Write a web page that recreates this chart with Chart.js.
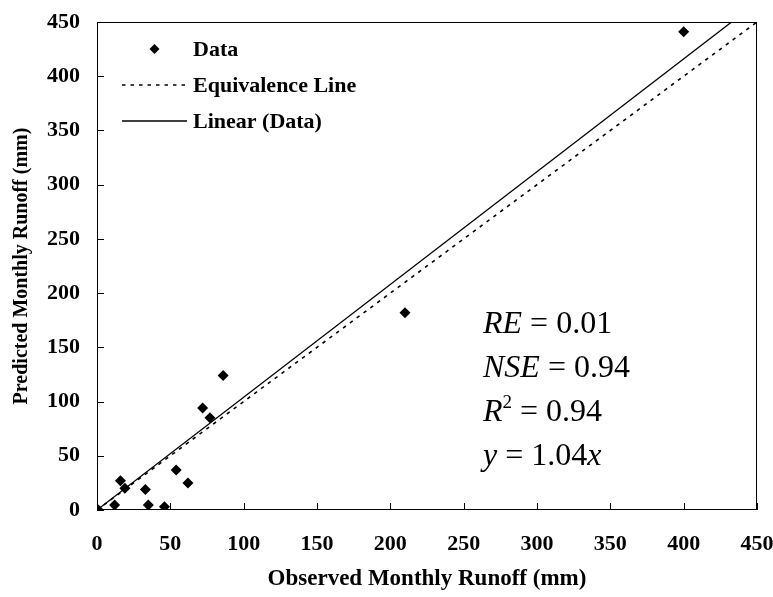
<!DOCTYPE html>
<html>
<head>
<meta charset="utf-8">
<script src="https://cdn.jsdelivr.net/npm/chart.js@4.4.1/dist/chart.umd.min.js"></script>
<style>
html, body { margin: 0; padding: 0; background: #fff; }
#wrap { width: 773px; height: 597px; }
</style>
</head>
<body>
<div id="wrap"><canvas id="chart" width="773" height="597"></canvas></div>
<script>
// observed vs predicted monthly runoff (mm)
const observed = [1, 12, 16, 19, 33, 35, 46, 54, 62, 72, 77, 86, 210, 400];
const predicted = [0, 4.5, 27, 20, 19, 4.5, 3, 37, 25, 94, 85, 124, 182, 441];
const equivX = [0, 450];
const equivY = [0, 450];
const fitX = [0, 432.7];
const fitY = [0, 450];
const tickValues = [0, 50, 100, 150, 200, 250, 300, 350, 400, 450];

const seriesLabels = ["Data", "Equivalence Line", "Linear (Data)"];
const statLines = [
	[["RE", true], [" = 0.01", false]],
	[["NSE", true], [" = 0.94", false]],
	[["R", true], ["2", false, true], [" = 0.94", false]],
	[["y", true], [" = 1.04", false], ["x", true]]
];

const SERIF = "'Liberation Serif', 'Times New Roman', serif";

const toPoints = (xs, ys) => xs.map((x, i) => ({ x: x, y: ys[i] }));

// plot frame + inward tick marks
const framePlugin = {
	id: "frame",
	afterDraw(chart) {
		const { ctx, chartArea: a, scales } = chart;
		ctx.save();
		ctx.strokeStyle = "#000";
		ctx.lineWidth = 1;
		ctx.strokeRect(a.left + 0.5, a.top + 0.5, a.right - a.left - 1, a.bottom - a.top - 1);
		ctx.beginPath();
		tickValues.forEach(v => {
			const px = Math.round(scales.x.getPixelForValue(v)) + 0.5;
			ctx.moveTo(px, a.bottom);
			ctx.lineTo(px, a.bottom - 7);
			const py = Math.round(scales.y.getPixelForValue(v)) + 0.5;
			ctx.moveTo(a.left, py);
			ctx.lineTo(a.left + 7, py);
		});
		ctx.stroke();
		ctx.restore();
	}
};

// legend drawn inside the plot, top-left
const legendPlugin = {
	id: "insideLegend",
	afterDraw(chart) {
		const { ctx, chartArea: a } = chart;
		const rows = [49, 85, 121];
		const x0 = a.left + 25, x1 = a.left + 90, tx = a.left + 96;
		ctx.save();
		ctx.fillStyle = "#000";
		ctx.strokeStyle = "#000";
		ctx.font = "bold 22px " + SERIF;
		ctx.textBaseline = "middle";
		chart.data.datasets.forEach((ds, i) => {
			const y = rows[i];
			if (i === 0) {
				const cx = (x0 + x1) / 2, r = 5;
				ctx.beginPath();
				ctx.moveTo(cx, y - r);
				ctx.lineTo(cx + r, y);
				ctx.lineTo(cx, y + r);
				ctx.lineTo(cx - r, y);
				ctx.closePath();
				ctx.fill();
			} else {
				ctx.beginPath();
				ctx.lineWidth = ds.borderWidth;
				ctx.setLineDash(ds.borderDash || []);
				ctx.moveTo(x0, y);
				ctx.lineTo(x1, y);
				ctx.stroke();
				ctx.setLineDash([]);
			}
			ctx.fillText(ds.label, tx, y + 1);
		});
		ctx.restore();
	}
};

// goodness-of-fit text
const statsPlugin = {
	id: "stats",
	afterDraw(chart) {
		const { ctx } = chart;
		ctx.save();
		ctx.fillStyle = "#000";
		ctx.textBaseline = "alphabetic";
		statLines.forEach((line, i) => {
			let x = 483;
			const y = 333 + i * 44;
			line.forEach(([txt, italic, sup]) => {
				const size = sup ? 19 : 32;
				ctx.font = (italic ? "italic " : "") + size + "px " + SERIF;
				ctx.fillText(txt, x, sup ? y - 13 : y);
				x += ctx.measureText(txt).width;
			});
		});
		ctx.restore();
	}
};

const tickFont = { family: SERIF, size: 22, weight: "bold" };

new Chart(document.getElementById("chart"), {
	type: "scatter",
	data: {
		datasets: [
			{
				label: seriesLabels[0],
				data: toPoints(observed, predicted),
				pointStyle: "rectRot",
				pointRadius: 5.5,
				pointHoverRadius: 5.5,
				backgroundColor: "#000",
				borderColor: "#000",
				borderWidth: 0,
				showLine: false
			},
			{
				label: seriesLabels[1],
				data: toPoints(equivX, equivY),
				showLine: true,
				borderColor: "#000",
				borderWidth: 1.6,
				borderDash: [3.5, 5],
				pointRadius: 0
			},
			{
				label: seriesLabels[2],
				data: toPoints(fitX, fitY),
				showLine: true,
				borderColor: "#000",
				borderWidth: 1.3,
				pointRadius: 0
			}
		]
	},
	options: {
		responsive: false,
		animation: false,
		layout: { padding: { left: 0, right: 16, top: 22, bottom: 0 } },
		plugins: {
			legend: { display: false },
			tooltip: { enabled: false }
		},
		scales: {
			x: {
				type: "linear",
				min: 0,
				max: 450,
				afterFit: s => { s.height = 87; s.paddingLeft = 0; s.paddingRight = 0; },
				afterBuildTicks: s => { s.ticks = tickValues.map(v => ({ value: v })); },
				grid: { display: false, drawTicks: false },
				border: { display: false },
				ticks: {
					color: "#000",
					padding: 21,
					maxRotation: 0,
					font: tickFont
				},
				title: {
					display: true,
					text: "Observed Monthly Runoff (mm)",
					color: "#000",
					padding: { bottom: 4 },
					font: { family: SERIF, size: 23, weight: "bold" }
				}
			},
			y: {
				type: "linear",
				min: 0,
				max: 450,
				afterFit: s => { s.width = 97; s.paddingTop = 0; s.paddingBottom = 0; },
				afterBuildTicks: s => { s.ticks = tickValues.map(v => ({ value: v })); },
				grid: { display: false, drawTicks: false },
				border: { display: false },
				ticks: {
					color: "#000",
					padding: 17,
					font: tickFont
				},
				title: {
					display: true,
					text: "Predicted Monthly Runoff (mm)",
					color: "#000",
					padding: { top: 10 },
					font: { family: SERIF, size: 20, weight: "bold" }
				}
			}
		}
	},
	plugins: [framePlugin, legendPlugin, statsPlugin]
});
</script>
</body>
</html>
